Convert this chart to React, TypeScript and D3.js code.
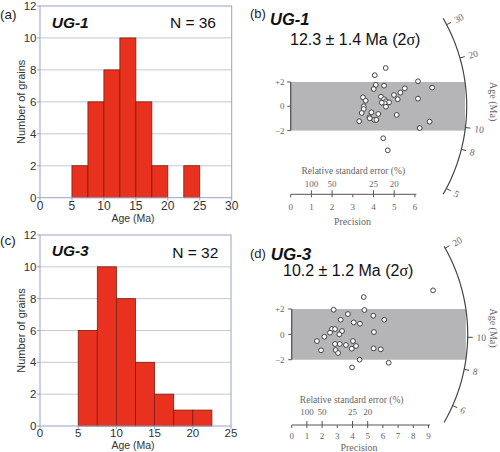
import React from "react";
import * as d3 from "d3";

// ---------- Histogram data ----------
const binEdgesA = [5, 7.5, 10, 12.5, 15, 17.5, 20, 22.5, 25];
const countsA = [2, 6, 8, 10, 6, 2, 0, 2];
const xTicksA = [0, 5, 10, 15, 20, 25, 30];

const binEdgesC = [5, 7.5, 10, 12.5, 15, 17.5, 20, 22.5];
const countsC = [6, 10, 8, 4, 2, 1, 1];
const xTicksC = [0, 5, 10, 15, 20, 25];

const yTicksHist = [0, 2, 4, 6, 8, 10, 12];

// ---------- Radial plot data (precision, standardised estimate) ----------
const precisionB = [4.59, 4.06, 4.11, 4.01, 4.51, 6.15, 6.83, 5.51, 5.3, 4.99, 5.17, 6.15, 3.49, 3.62, 4.36, 4.51, 4.59, 4.75, 4.54, 4.6, 3.53, 3.53, 3.43, 3.9, 4.23, 5.12, 3.8, 3.82, 4.04, 4.14, 3.31, 6.71, 6.23, 4.47, 4.69, 4.4];
const zB = [3.15, 2.56, 1.76, 1.42, 1.7, 2.06, 1.54, 1.48, 1.12, 0.93, 0.58, 0.63, 0.74, 0.46, 0.79, 0.58, 0.41, 0.33, 0.25, -0.03, 0.0, -0.22, -0.55, -0.49, -0.63, -0.71, -0.9, -0.99, -1.12, -1.12, -1.23, -1.26, -1.79, -2.63, -3.62, 0.3];
const ageTicksB = [5, 8, 10, 20, 30];
const precTicksB = [0, 1, 2, 3, 4, 5, 6];

const precisionD = [9.3, 4.74, 2.76, 4.78, 3.7, 5.37, 6.09, 3.22, 4.08, 4.49, 2.65, 2.85, 3.31, 2.52, 3.13, 5.41, 2.15, 1.66, 4.03, 2.85, 3.16, 3.57, 4.23, 3.95, 5.39, 5.86, 1.93, 2.89, 3.05, 4.47, 6.38, 3.97];
const zD = [3.47, 2.94, 1.94, 1.92, 1.6, 1.47, 1.15, 1.15, 0.94, 0.84, 0.42, 0.42, 0.26, 0.13, 0.0, 0.18, -0.19, -0.53, -0.53, -0.76, -0.76, -0.84, -0.92, -1.13, -1.11, -1.18, -1.26, -1.24, -1.47, -2.0, -2.24, -2.61];
const ageTicksD = [6, 8, 10, 20];
const precTicksD = [0, 1, 2, 3, 4, 5, 6, 7, 8, 9];

const rseTicks = [100, 50, 25, 20];
const zTicks = [2, 0, -2];

const SANS = "'Liberation Sans', Arial, Helvetica, sans-serif";
const SERIF = "'Liberation Serif', 'Times New Roman', serif";

type HistProps = {
  edges: number[];
  counts: number[];
  xTicks: number[];
  xMax: number;
  left: number; right: number; top: number; bottom: number;
  panel: string; sample: string; n: string;
  panelY: number; sampleY: number; nY: number; nX: number;
  tickLabelY: number; axisLabelY: number; tickSize: number;
};

function Histogram(p: HistProps) {
  const x = d3.scaleLinear().domain([0, p.xMax]).range([p.left, p.right]);
  const y = d3.scaleLinear().domain([0, 12]).range([p.bottom, p.top]);
  const frame = "#9aa3c4";
  return (
    <g>
      {yTicksHist.slice(1, -1).map((t) => (
        <line key={"g" + t} x1={p.left} x2={p.right} y1={y(t)} y2={y(t)} stroke="#c3c8dc" strokeWidth={1} />
      ))}
      {p.counts.map((c, i) =>
        c > 0 ? (
          <rect key={"b" + i} x={x(p.edges[i])} y={y(c)} width={x(p.edges[i + 1]) - x(p.edges[i])} height={y(0) - y(c)}
            fill="#e8321f" stroke="#7e1d12" strokeWidth={0.8} />
        ) : null
      )}
      <rect x={p.left} y={p.top} width={p.right - p.left} height={p.bottom - p.top} fill="none" stroke={frame} strokeWidth={1} />
      {yTicksHist.map((t) => (
        <g key={"y" + t}>
          <line x1={p.left - 3} x2={p.left} y1={y(t)} y2={y(t)} stroke={frame} />
          <text x={36.5} y={y(t)} dy="0.36em" textAnchor="end" fontFamily={SANS} fontSize={11.5} fill="#333">{t}</text>
        </g>
      ))}
      {p.xTicks.map((t) => (
        <g key={"x" + t}>
          <line x1={x(t)} x2={x(t)} y1={p.bottom} y2={p.bottom + 3} stroke={frame} />
          <text x={x(t)} y={p.tickLabelY} textAnchor="middle" fontFamily={SANS} fontSize={p.tickSize} fill="#333">{t}</text>
        </g>
      ))}
      <text x={133} y={p.axisLabelY} textAnchor="middle" fontFamily={SANS} fontSize={10.5} fill="#333">Age (Ma)</text>
      <text transform={`translate(24.5,${(p.top + p.bottom) / 2}) rotate(-90)`} textAnchor="middle" fontFamily={SANS} fontSize={11} fill="#333">Number of grains</text>
      <text x={0} y={p.panelY} fontFamily={SANS} fontSize={13.5} fill="#222">{p.panel}</text>
      <text x={51.7} y={p.sampleY} fontFamily={SANS} fontSize={15.5} fontWeight="bold" fontStyle="italic" fill="#111">{p.sample}</text>
      <text x={p.nX} y={p.nY} textAnchor="end" fontFamily={SANS} fontSize={15.5} fill="#111">{p.n}</text>
    </g>
  );
}

type RadialProps = {
  prec: number[]; z: number[];
  ageTicks: number[]; precTicks: number[];
  t0: number;
  ox: number; pxPerX: number; oy: number; pxPerY: number;
  axisY: number;
  panel: string; sample: string; title: string;
  panelY: number; sampleX: number; sampleY: number; titleX: number; titleY: number; sampleSize: number;
  tickOff: number; rseOff: number; rseTitleOff: number; precOff: number;
  rseTitleX: number; precTitleX: number; ageLabelY: number;
};

function Radial(p: RadialProps) {
  const xMax = p.precTicks[p.precTicks.length - 1];
  const x = d3.scaleLinear().domain([0, xMax]).range([p.ox, p.ox + xMax * p.pxPerX]);
  const y = d3.scaleLinear().domain([-2, 2]).range([p.oy + 2 * p.pxPerY, p.oy - 2 * p.pxPerY]);
  const R = 176;
  const cx = x(0), cy = y(0);
  const ratio = p.pxPerY / p.pxPerX;
  const ang = (t: number) => Math.atan((Math.log(t) - Math.log(p.t0)) * ratio);
  const a0 = (-30 * Math.PI) / 180, a1 = (30 * Math.PI) / 180;
  const arcPts = d3.range(0, 61).map((i) => {
    const a = a0 + ((a1 - a0) * i) / 60;
    return [cx + R * Math.cos(a), cy - R * Math.sin(a)] as [number, number];
  });
  const arcPath = d3.line()(arcPts) || "";
  const bandRight = cx + Math.sqrt(R * R - (y(2) - cy) * (y(2) - cy));
  const grey = "#555";
  return (
    <g>
      <rect x={cx} y={y(2)} width={bandRight - cx} height={y(-2) - y(2)} fill="#b5b5b8" />
      <line x1={cx} x2={cx} y1={y(2)} y2={y(-2)} stroke={grey} strokeWidth={1.3} />
      {zTicks.map((t) => (
        <g key={"z" + t}>
          <line x1={cx - 3.5} x2={cx} y1={y(t)} y2={y(t)} stroke={grey} strokeWidth={1} />
          <text x={284.5} y={y(t)} dy="0.35em" textAnchor="end" fontFamily={SERIF} fontSize={9} fill="#666">{t > 0 ? "+" + t : t < 0 ? "\u22122" : "0"}</text>
        </g>
      ))}
      <path d={arcPath} fill="none" stroke="#444" strokeWidth={1.2} />
      {p.ageTicks.map((t) => {
        const a = ang(t);
        const deg = (a * 180) / Math.PI;
        const lx = cx + (R + 9) * Math.cos(a), ly = cy - (R + 9) * Math.sin(a);
        return (
          <g key={"a" + t}>
            <line x1={cx + R * Math.cos(a)} y1={cy - R * Math.sin(a)} x2={cx + (R + 5) * Math.cos(a)} y2={cy - (R + 5) * Math.sin(a)} stroke="#444" strokeWidth={1} />
            <text transform={`translate(${lx},${ly}) rotate(${-deg})`} dy="0.35em" fontFamily={SERIF} fontSize={9.5} fill="#666">{t}</text>
          </g>
        );
      })}
      <text transform={`translate(490,${p.ageLabelY}) rotate(90)`} textAnchor="middle" fontFamily={SERIF} fontSize={10} fill="#666">Age (Ma)</text>
      {p.prec.map((v, i) => (
        <circle key={"p" + i} cx={x(v)} cy={y(p.z[i])} r={2.4} fill="#fff" stroke="#333" strokeWidth={0.9} />
      ))}
      <line x1={x(0)} x2={x(xMax) + 1.5} y1={p.axisY} y2={p.axisY} stroke={grey} strokeWidth={1} />
      {p.precTicks.map((t) => (
        <g key={"pt" + t}>
          <line x1={x(t)} x2={x(t)} y1={p.axisY} y2={p.axisY + 3} stroke={grey} />
          <text x={x(t)} y={p.axisY + p.tickOff} textAnchor="middle" fontFamily={SERIF} fontSize={9} fill="#666">{t}</text>
        </g>
      ))}
      {rseTicks.map((r) => (
        <g key={"r" + r}>
          <line x1={x(100 / r)} x2={x(100 / r)} y1={p.axisY - 4} y2={p.axisY} stroke={grey} />
          <text x={x(100 / r)} y={p.axisY + p.rseOff} textAnchor="middle" fontFamily={SERIF} fontSize={9} fill="#666">{r}</text>
        </g>
      ))}
      <text x={p.rseTitleX} y={p.axisY + p.rseTitleOff} textAnchor="middle" fontFamily={SERIF} fontSize={9.5} fill="#666">Relative standard error (%)</text>
      <text x={p.precTitleX} y={p.axisY + p.precOff} textAnchor="middle" fontFamily={SERIF} fontSize={10} fill="#666">Precision</text>
      <text x={250} y={p.panelY} fontFamily={SANS} fontSize={13} fill="#222">{p.panel}</text>
      <text x={p.sampleX} y={p.sampleY} fontFamily={SANS} fontSize={p.sampleSize} fontWeight="bold" fontStyle="italic" fill="#111">{p.sample}</text>
      <text x={p.titleX} y={p.titleY} fontFamily={SANS} fontSize={16} fill="#111">
        {p.title}
        <tspan fontFamily={SERIF}>{"\u03c3"}</tspan>
        {")"}
      </text>
    </g>
  );
}

export default function App() {
  return (
    <svg width={500} height={452} style={{ position: "absolute", left: 0, top: 0, background: "#fff" }}>
      <rect width={500} height={452} fill="#fff" />
      <Histogram edges={binEdgesA} counts={countsA} xTicks={xTicksA} xMax={30}
        left={40} right={231.7} top={6} bottom={197.7}
        panel="(a)" sample="UG-1" n="N = 36" panelY={18.5} sampleY={28.3} nY={28.3} nX={216}
        tickLabelY={209.5} axisLabelY={221.5} tickSize={12} />
      <Histogram edges={binEdgesC} counts={countsC} xTicks={xTicksC} xMax={25}
        left={40} right={231} top={235} bottom={426}
        panel="(c)" sample="UG-3" n="N = 32" panelY={245} sampleY={255.5} nY={258} nX={218.3}
        tickLabelY={437} axisLabelY={448.5} tickSize={11.5} />
      <Radial prec={precisionB} z={zB} ageTicks={ageTicksB} precTicks={precTicksB} t0={12.3}
        ox={290.7} pxPerX={20.7} oy={106.3} pxPerY={12.15} axisY={194.3}
        panel="(b)" sample="UG-1" title="12.3 ± 1.4 Ma (2"
        panelY={18} sampleX={270} sampleY={25} titleX={290} titleY={44.5} sampleSize={16.5}
        tickOff={15.7} rseOff={-7.3} rseTitleOff={-20.3} precOff={30.2}
        rseTitleX={353.3} precTitleX={352.5} ageLabelY={101.7} />
      <Radial prec={precisionD} z={zD} ageTicks={ageTicksD} precTicks={precTicksD} t0={10.2}
        ox={291.7} pxPerX={15.2} oy={334.35} pxPerY={12.68} axisY={425}
        panel="(d)" sample="UG-3" title="10.2 ± 1.2 Ma (2"
        panelY={257.5} sampleX={270.7} sampleY={260} titleX={283} titleY={275.5} sampleSize={17}
        tickOff={13.7} rseOff={-10.3} rseTitleOff={-22.5} precOff={25.7}
        rseTitleX={351.7} precTitleX={359} ageLabelY={328} />
    </svg>
  );
}
